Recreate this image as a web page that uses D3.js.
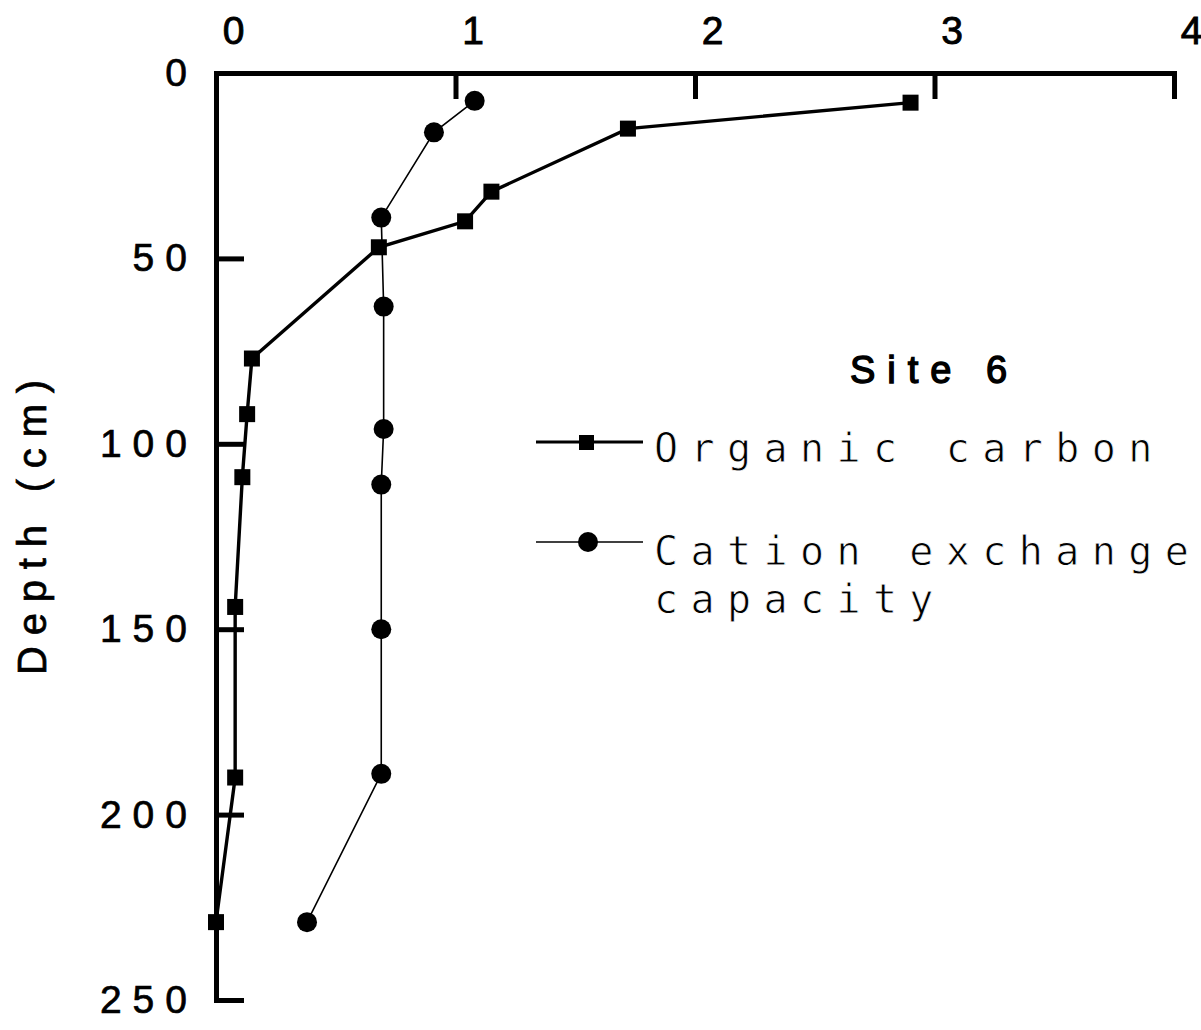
<!DOCTYPE html>
<html>
<head>
<meta charset="utf-8">
<script src="https://cdn.jsdelivr.net/npm/d3@7"></script>
<style>
    body { margin: 0; background: white; }
    svg { display: block; }
</style>
</head>
<body>
<div id="chart"></div>
<script>
    // depth (cm) and values
    var carbonDepth = [8, 15, 32, 40, 47, 77, 92, 109, 144, 190, 229];
    var carbonValue = [2.9, 1.72, 1.15, 1.04, 0.68, 0.15, 0.13, 0.11, 0.08, 0.08, 0];

    var cecDepth = [7.5, 16, 39, 63, 96, 111, 150, 189, 229];
    var cecValue = [1.08, 0.91, 0.69, 0.70, 0.70, 0.69, 0.69, 0.69, 0.38];

    var xTicks = [0, 1, 2, 3, 4];
    var yTicks = [0, 50, 100, 150, 200, 250];

    var seriesNames = ["Organic carbon", "Cation exchange", "capacity"];
    var siteLabel = "Site 6";
    var yTitle = "Depth (cm)";

    var width = 1201;
    var height = 1030;

    var svg = d3.select("#chart")
        .append("svg")
        .attr("width", width)
        .attr("height", height);

    var x = d3.scaleLinear().domain([0, 4]).range([216, 1174]);
    var y = d3.scaleLinear().domain([0, 250]).range([73, 1000]);

    var carbon = carbonDepth.map(function (d, i) { return { d: d, v: carbonValue[i] }; });
    var cec = cecDepth.map(function (d, i) { return { d: d, v: cecValue[i] }; });

    // top axis, ticks pointing down into the plot
    var xAxis = svg.append("g")
        .attr("transform", "translate(0,73)")
        .call(d3.axisTop(x).tickValues(xTicks).tickFormat(d3.format("d"))
            .tickSizeInner(-26).tickSizeOuter(0).tickPadding(29));

    xAxis.selectAll("text")
        .attr("dx", 17)
        .style("font-family", "'Liberation Sans', Arial, sans-serif")
        .style("font-size", "39px")
        .style("fill", "black")
        .style("stroke", "black")
        .style("stroke-width", 0.9);

    // left axis
    var yAxis = svg.append("g")
        .attr("transform", "translate(216,0)")
        .call(d3.axisLeft(y).tickValues(yTicks).tickFormat(d3.format("d"))
            .tickSizeInner(-28).tickSizeOuter(0).tickPadding(18));

    yAxis.selectAll("text")
        .style("font-family", "'Liberation Sans', Arial, sans-serif")
        .style("font-size", "39px")
        .style("letter-spacing", "11px")
        .style("fill", "black")
        .style("stroke", "black")
        .style("stroke-width", 0.7);

    svg.selectAll(".domain, .tick line")
        .style("stroke", "black")
        .style("stroke-width", 5);

    svg.selectAll(".domain").attr("stroke-linecap", "square");

    // y axis title
    svg.append("text")
        .attr("transform", "translate(46,522) rotate(-90)")
        .attr("text-anchor", "middle")
        .style("font-family", "'Liberation Sans', Arial, sans-serif")
        .style("font-size", "40px")
        .style("letter-spacing", "10.8px")
        .style("stroke", "black")
        .style("stroke-width", 0.7)
        .text(yTitle);

    var line = d3.line()
        .x(function (d) { return x(d.v); })
        .y(function (d) { return y(d.d); });

    // cation exchange capacity: thin line, round markers
    svg.append("path")
        .datum(cec)
        .attr("d", line)
        .attr("fill", "none")
        .attr("stroke", "black")
        .attr("stroke-width", 1.6);

    svg.selectAll(".cec")
        .data(cec)
        .join("circle")
        .attr("class", "cec")
        .attr("cx", function (d) { return x(d.v); })
        .attr("cy", function (d) { return y(d.d); })
        .attr("r", 10)
        .attr("fill", "black");

    // organic carbon: thick line, square markers
    svg.append("path")
        .datum(carbon)
        .attr("d", line)
        .attr("fill", "none")
        .attr("stroke", "black")
        .attr("stroke-width", 3.4);

    svg.selectAll(".carbon")
        .data(carbon)
        .join("rect")
        .attr("class", "carbon")
        .attr("x", function (d) { return x(d.v) - 8; })
        .attr("y", function (d) { return y(d.d) - 8; })
        .attr("width", 16)
        .attr("height", 16)
        .attr("fill", "black");

    // legend
    svg.append("text")
        .attr("x", 850)
        .attr("y", 383)
        .style("font-family", "'Liberation Sans', Arial, sans-serif")
        .style("font-size", "38px")
        .style("letter-spacing", "12px")
        .style("stroke", "black")
        .style("stroke-width", 1.4)
        .text(siteLabel);

    var legend = svg.append("g");

    legend.append("line")
        .attr("x1", 536).attr("x2", 643)
        .attr("y1", 442).attr("y2", 442)
        .attr("stroke", "black").attr("stroke-width", 3);
    legend.append("rect")
        .attr("x", 579).attr("y", 435)
        .attr("width", 15).attr("height", 15)
        .attr("fill", "black");

    legend.append("line")
        .attr("x1", 536).attr("x2", 643)
        .attr("y1", 542).attr("y2", 542)
        .attr("stroke", "black").attr("stroke-width", 1.6);
    legend.append("circle")
        .attr("cx", 588).attr("cy", 542).attr("r", 10)
        .attr("fill", "black");

    legend.selectAll(".lab")
        .data(seriesNames)
        .join("text")
        .attr("class", "lab")
        .attr("x", 654)
        .attr("y", function (d, i) { return [462, 565, 613][i]; })
        .style("font-family", "'DejaVu Sans Mono', monospace")
        .style("font-size", "40px")
        .style("letter-spacing", "12.4px")
        .style("stroke", "white")
        .style("stroke-width", 0.8)
        .text(function (d) { return d; });
</script>
</body>
</html>
